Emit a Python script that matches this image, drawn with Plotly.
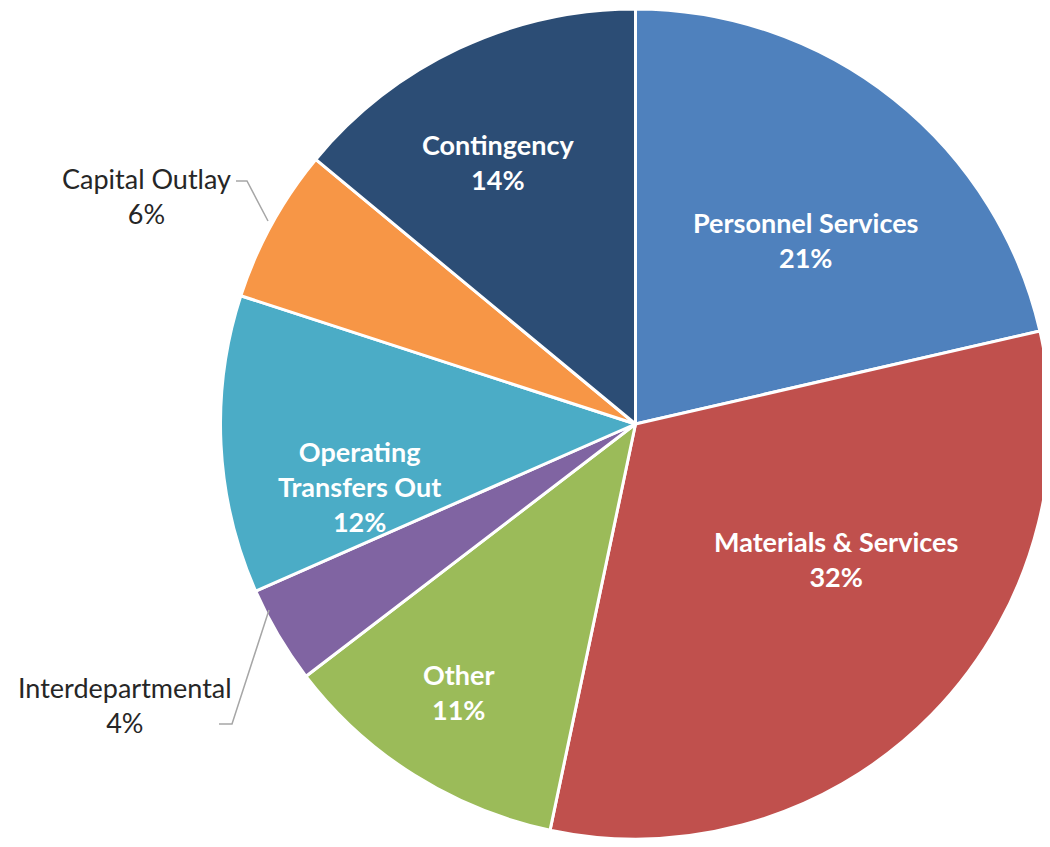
import plotly.graph_objects as go

categories = ['Personnel Services', 'Materials & Services', 'Other', 'Interdepartmental',
              'Operating Transfers Out', 'Capital Outlay', 'Contingency']
values = [21.4, 31.9, 11.3, 3.8, 11.6, 6.0, 14.0]
colors = ['#4F81BD', '#C0504D', '#9BBB59', '#8064A2', '#4BACC6', '#F79646', '#2C4D75']

W, H = 1050, 847
OFF = 8  # page body margin in the browser
total = sum(values)
pct = {c: f"{round(v / total * 100):.0f}%" for c, v in zip(categories, values)}

fig = go.Figure(go.Pie(
    labels=categories,
    values=values,
    sort=False,
    direction='clockwise',
    rotation=0,
    marker=dict(colors=colors, line=dict(color='white', width=3)),
    textinfo='none',
    hoverinfo='label+percent',
    showlegend=False,
    domain=dict(x=[212.5 / W, 1042.5 / W], y=[1 - 831 / H, 1 - 1 / H]),
))

# label placement (screen pixel centres, like the Excel best-fit layout)
inside = {
    'Personnel Services': ('Personnel Services', 805, 240),
    'Materials & Services': ('Materials & Services', 836, 559),
    'Other': ('Other', 459, 692),
    'Operating Transfers Out': ('Operating<br>Transfers Out', 359, 487),
    'Contingency': ('Contingency', 498, 162),
}
outside = {
    'Capital Outlay': ('Capital Outlay', 146, 196),
    'Interdepartmental': ('Interdepartmental', 125, 705),
}

def px2paper(x, y):
    return (x - OFF) / W, 1 - (y - OFF) / H

for cat, (txt, px, py) in inside.items():
    x, y = px2paper(px, py)
    fig.add_annotation(x=x, y=y, xref='paper', yref='paper', xanchor='center', yanchor='middle',
                       text=f"<b>{txt}<br>{pct[cat]}</b>", showarrow=False,
                       font=dict(family='Lato', size=27, color='white'), align='center')
for cat, (txt, px, py) in outside.items():
    x, y = px2paper(px, py)
    fig.add_annotation(x=x, y=y, xref='paper', yref='paper', xanchor='center', yanchor='middle',
                       text=f"{txt}<br>{pct[cat]}", showarrow=False,
                       font=dict(family='Lato', size=27, color='#262626'), align='center')

# leader lines
def pline(pts):
    return 'M ' + ' L '.join('{} {}'.format(*px2paper(x, y)) for x, y in pts)

for pts in [[(236, 181), (247, 181), (268, 221)], [(269, 610), (232, 724), (219, 724)]]:
    fig.add_shape(type='path', path=pline(pts), xref='paper', yref='paper',
                  line=dict(color='#A6A6A6', width=1.5))

fig.update_layout(
    width=W, height=H,
    margin=dict(l=0, r=0, t=0, b=0),
    paper_bgcolor='white',
    plot_bgcolor='white',
)

fig.write_html("out.html")
